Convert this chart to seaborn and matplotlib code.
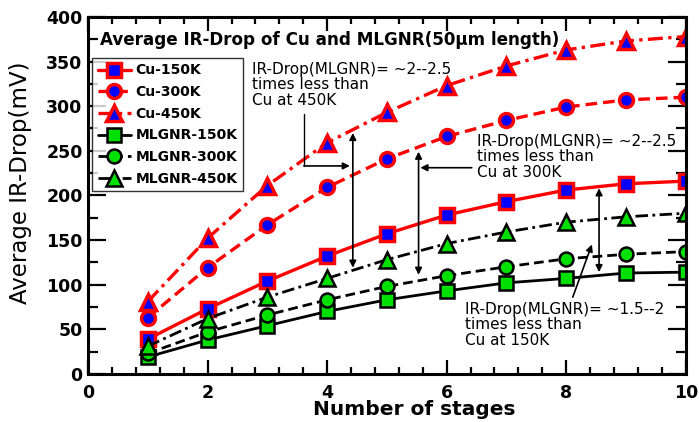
import numpy as np
import pandas as pd
import matplotlib
matplotlib.use("Agg")
import matplotlib.pyplot as plt
from matplotlib.ticker import MultipleLocator
import seaborn as sns

# Data
stages = [1, 2, 3, 4, 5, 6, 7, 8, 9, 10]
cu_150 = [39, 73, 104, 132, 157, 178, 193, 206, 213, 216]
cu_300 = [63, 119, 167, 209, 241, 266, 284, 299, 307, 310]
cu_450 = [81, 152, 211, 259, 293, 323, 345, 363, 373, 378]
mlgnr_150 = [19, 38, 54, 70, 83, 93, 102, 107, 113, 114]
mlgnr_300 = [23, 47, 66, 83, 98, 110, 120, 129, 134, 137]
mlgnr_450 = [31, 62, 86, 107, 128, 146, 159, 170, 176, 180]

series = [
    ("Cu-150K", cu_150, "red", "blue", "red", "-", "s"),
    ("Cu-300K", cu_300, "red", "blue", "red", (0, (3.5, 1.8)), "o"),
    ("Cu-450K", cu_450, "red", "blue", "red", (0, (4.5, 1.6, 1, 1.6)), "^"),
    ("MLGNR-150K", mlgnr_150, "black", "#00e000", "black", "-", "s"),
    ("MLGNR-300K", mlgnr_300, "black", "#00e000", "black", (0, (3.5, 1.8)), "o"),
    ("MLGNR-450K", mlgnr_450, "black", "#00e000", "black", (0, (4.5, 1.6, 1, 1.6)), "^"),
]

sns.set_style("ticks")
plt.rcParams['font.family'] = ['DejaVu Sans']
plt.rcParams['text.color'] = 'black'
plt.rcParams['axes.labelcolor'] = 'black'
plt.rcParams['xtick.color'] = 'black'
plt.rcParams['ytick.color'] = 'black'

fig = plt.figure(figsize=(6.99, 4.22), dpi=100)
ax = fig.add_axes([0.126, 0.114, 0.855, 0.846])

for name, vals, lc, mfc, mec, ls, mk in series:
    df = pd.DataFrame({"stage": stages, "drop": vals})
    is_cu = name.startswith("Cu")
    sns.lineplot(data=df, x="stage", y="drop", ax=ax, color=lc, linestyle=ls,
                 linewidth=2.4 if is_cu else 2.0, marker=mk,
                 markersize=10 if mk != "^" else 11,
                 markerfacecolor=mfc, markeredgecolor=mec,
                 markeredgewidth=2.5 if is_cu else 1.8, label=name)

ax.set_xlim(0, 10)
ax.set_ylim(0, 400)
ax.xaxis.set_major_locator(MultipleLocator(2))
ax.xaxis.set_minor_locator(MultipleLocator(0.4))
ax.yaxis.set_major_locator(MultipleLocator(50))
ax.yaxis.set_minor_locator(MultipleLocator(25))
ax.tick_params(which="both", direction="in", top=True, right=True, width=1.6,
               color="black", labelcolor="black")
ax.tick_params(axis="x", which="major", length=10, pad=7)
ax.tick_params(axis="x", which="minor", length=5)
ax.tick_params(axis="y", which="major", length=13, pad=4)
ax.tick_params(axis="y", which="minor", length=7)
for lab in ax.get_xticklabels() + ax.get_yticklabels():
    lab.set_fontweight("bold")
    lab.set_fontsize(12.5)
for sp in ax.spines.values():
    sp.set_linewidth(2.2)
    sp.set_color("black")

ax.set_xlabel("Number of stages", fontsize=14.5, fontweight="bold")
ax.xaxis.set_label_coords(0.545, -0.073)
ax.set_ylabel("Average IR-Drop(mV)", fontsize=16.5)
ax.yaxis.set_label_coords(-0.093, 0.534)

ax.text(0.02, 0.936, "Average IR-Drop of Cu and MLGNR(50\u03bcm length)", transform=ax.transAxes,
        fontsize=12.1, fontweight="bold", va="center", ha="left")

leg = ax.legend(loc="upper left", bbox_to_anchor=(0.007, 0.885), frameon=True, fancybox=False,
                prop={"weight": "bold", "size": 10}, handlelength=2.4, handletextpad=0.3,
                labelspacing=0.55, borderpad=0.4, borderaxespad=0)
leg.get_frame().set_edgecolor("black")
leg.get_frame().set_linewidth(1.0)

# annotations
txt_kw = dict(fontsize=11, va="top", ha="left", linespacing=1.05, color="black")
ax.text(2.74, 350, "IR-Drop(MLGNR)= ~2--2.5\ntimes less than\nCu at 450K", **txt_kw)
ax.text(6.5, 269, "IR-Drop(MLGNR)= ~2--2.5\ntimes less than\nCu at 300K", **txt_kw)
ax.text(6.3, 81, "IR-Drop(MLGNR)= ~1.5--2\ntimes less than\nCu at 150K", **txt_kw)

dbl = dict(arrowstyle="<|-|>", color="black", lw=1.2, mutation_scale=10, shrinkA=0, shrinkB=0)
one = dict(arrowstyle="-|>", color="black", lw=1.2, mutation_scale=10, shrinkA=0, shrinkB=0)
ax.annotate("", xy=(4.43, 270), xytext=(4.43, 119), arrowprops=dbl)
ax.annotate("", xy=(5.53, 249), xytext=(5.53, 111), arrowprops=dbl)
ax.annotate("", xy=(8.55, 208), xytext=(8.55, 114), arrowprops=dbl)
ax.plot([3.61, 3.61], [291, 233], color="black", lw=1.0)
ax.annotate("", xy=(4.38, 233), xytext=(3.61, 233), arrowprops=one)
ax.annotate("", xy=(5.56, 231), xytext=(6.42, 231), arrowprops=one)
ax.annotate("", xy=(8.43, 145), xytext=(8.11, 86), arrowprops=one)

fig.savefig("out.png", dpi=100)
